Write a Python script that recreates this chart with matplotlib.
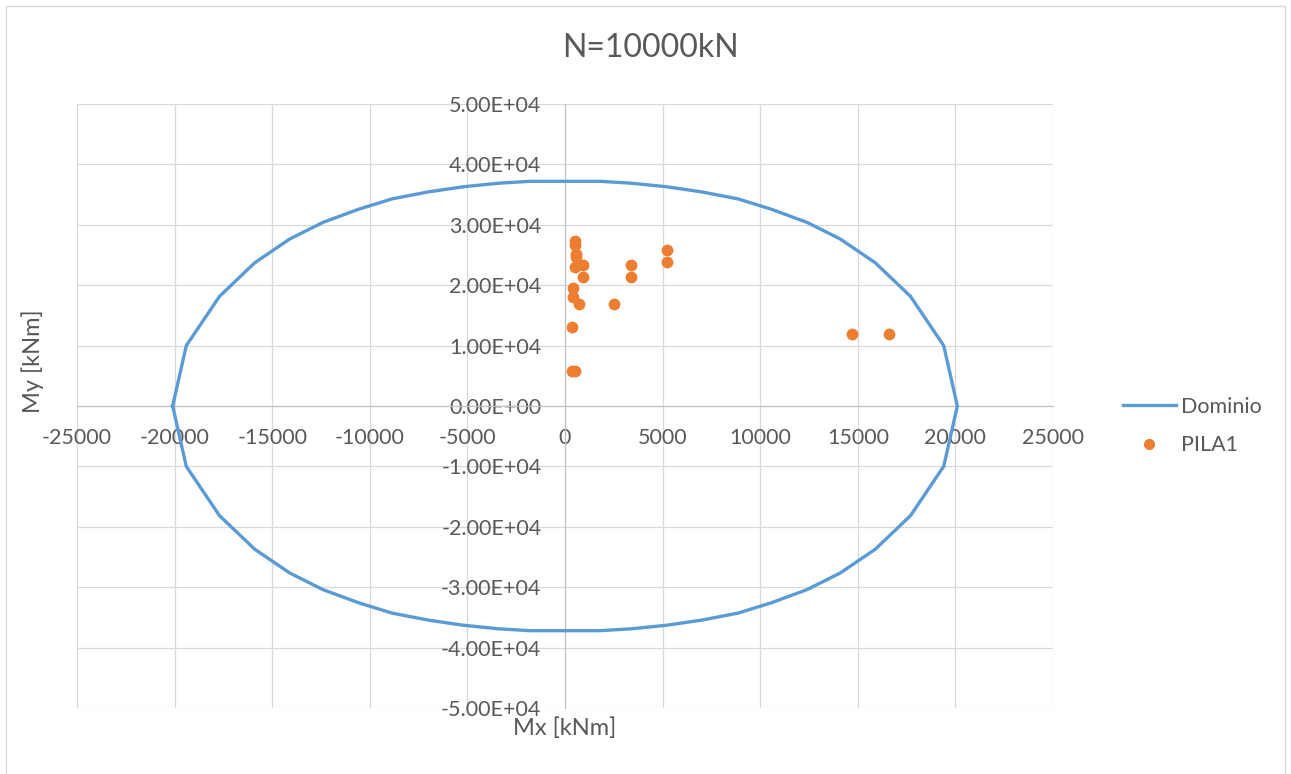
import matplotlib.pyplot as plt
from matplotlib.ticker import FuncFormatter
from matplotlib.lines import Line2D

plt.rcParams['font.family'] = ['Lato', 'DejaVu Sans']

# Dominio (interaction domain outline)
dom_mx = [-20100, -19400, -17700, -15900, -14100, -12400, -10550, -8850, -7000, -5200, -3350, -1790,
          1790, 3350, 5200, 7000, 8850, 10550, 12400, 14100, 15900, 17700, 19400, 20100,
          19400, 17700, 15900, 14100, 12400, 10550, 8850, 7000, 5200, 3350, 1790,
          -1790, -3350, -5200, -7000, -8850, -10550, -12400, -14100, -15900, -17700, -19400, -20100]
dom_my = [0, 10000, 18150, 23700, 27650, 30400, 32600, 34300, 35450, 36300, 36900, 37200,
          37200, 36900, 36300, 35450, 34300, 32600, 30400, 27650, 23700, 18150, 10000, 0,
          -10000, -18150, -23700, -27650, -30400, -32600, -34300, -35450, -36300, -36900, -37200,
          -37200, -36900, -36300, -35450, -34300, -32600, -30400, -27650, -23700, -18150, -10000, 0]

# PILA1 load points
pila_mx = [510, 530, 540, 550, 510, 920, 920, 430, 430, 720, 2500, 3380, 3380, 5240, 5240,
           340, 340, 510, 14710, 16590]
pila_my = [27300, 26600, 25200, 24600, 23000, 23400, 21400, 19500, 18100, 16900, 16900, 23300, 21300,
           25900, 23900, 13100, 5800, 5800, 11900, 11900]

xticks = [-25000, -20000, -15000, -10000, -5000, 0, 5000, 10000, 15000, 20000, 25000]
yticks = [-50000, -40000, -30000, -20000, -10000, 0, 10000, 20000, 30000, 40000, 50000]

txt = '#595959'
blue = '#5B9BD5'
orange = '#ED7D31'

fig = plt.figure(figsize=(12.91, 7.74), dpi=100)
ax = fig.add_axes([77 / 1291, 1 - 708 / 774, 976 / 1291, 604 / 774])

ax.plot(dom_mx, dom_my, color=blue, lw=2.4, zorder=3)
ax.scatter(pila_mx, pila_my, s=72, color=orange, zorder=4, linewidths=0)

ax.set_xlim(-25000, 25000)
ax.set_ylim(-50000, 50000)
ax.set_xticks(xticks)
ax.set_yticks(yticks)
ax.xaxis.set_major_formatter(FuncFormatter(lambda v, p: f'{int(v)}'))
ax.yaxis.set_major_formatter(FuncFormatter(lambda v, p: f'{v:.2E}'))

ax.grid(True, color='#D9D9D9', lw=0.9, zorder=0)
for gl in ax.get_xgridlines() + ax.get_ygridlines():
    gl.set_clip_on(False)
ax.set_axisbelow(True)

for s in ['top', 'right']:
    ax.spines[s].set_visible(False)
ax.spines['left'].set_position(('data', 0))
ax.spines['bottom'].set_position(('data', 0))
ax.spines['left'].set_color('#BFBFBF')
ax.spines['bottom'].set_color('#BFBFBF')
ax.spines['left'].set_zorder(1)
ax.spines['bottom'].set_zorder(1)
ax.tick_params(axis='both', length=0, labelsize=15.5, labelcolor=txt)
ax.tick_params(axis='x', pad=16)
ax.tick_params(axis='y', pad=17)

ax.set_xlabel('Mx [kNm]', fontsize=17, color=txt)
ax.xaxis.set_label_coords(0.5, -0.015)
ax.set_ylabel('My [kNm]', fontsize=17, color=txt)
ax.yaxis.set_label_coords(-0.034, 0.574)

fig.text(650 / 1291, 1 - 48 / 774, 'N=10000kN', fontsize=23, color=txt, ha='center', va='center')

handles = [Line2D([], [], color=blue, lw=2.4),
           Line2D([], [], color=orange, marker='o', ls='none', markersize=8, markeredgewidth=0)]
fig.legend(handles, ['Dominio', 'PILA1'], loc='center left', bbox_to_anchor=(1123 / 1291, 1 - 426 / 774),
           frameon=False, fontsize=15.5, labelcolor=txt, handlelength=2.45, handletextpad=0.25,
           labelspacing=0.85, borderpad=0, borderaxespad=0)

fig.add_artist(plt.Rectangle((6 / 1291, -0.02), 1279 / 1291, 1.02 - 6 / 774, transform=fig.transFigure,
                             fill=False, edgecolor='#D9D9D9', lw=1))

fig.savefig('out.png', dpi=100)
